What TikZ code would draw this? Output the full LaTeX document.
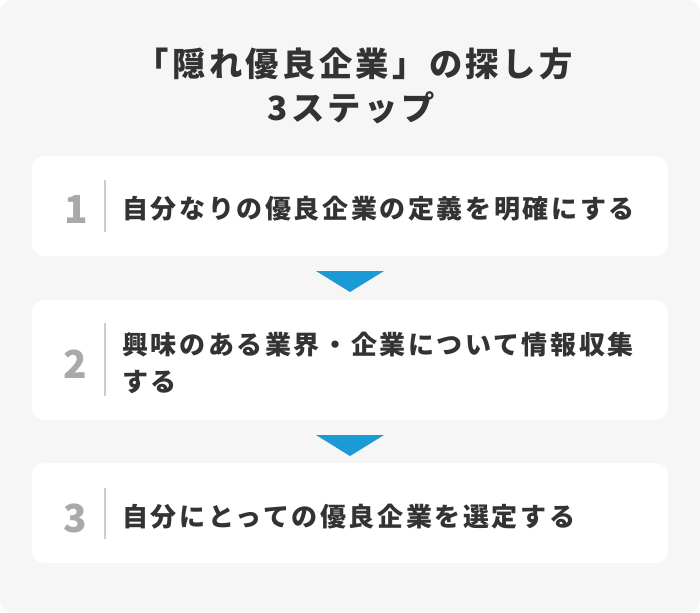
\documentclass[tikz,border=0pt]{standalone}
\usepackage{fontspec}
\newfontfamily\jp[LetterSpace=10]{Noto Sans CJK JP}
\newfontfamily\jpnum{Noto Sans CJK JP}
\definecolor{bgcol}{HTML}{F6F6F6}
\definecolor{txtcol}{HTML}{333333}
\definecolor{numcol}{HTML}{A9A9A9}
\definecolor{divcol}{HTML}{CCCCCC}
\definecolor{arrcol}{HTML}{1C9AD6}
\begin{document}
\begin{tikzpicture}[x=0.75pt,y=-0.75pt,
  stepbox/.style={fill=white, rounded corners=9pt},
  titletext/.style={inner sep=0pt, anchor=base, text=txtcol, font=\jp\bfseries\fontsize{25}{30}\selectfont},
  steptext/.style={inner sep=0pt, anchor=base west, text=txtcol, font=\jp\bfseries\fontsize{19.5}{26}\selectfont},
  numtext/.style={inner sep=0pt, anchor=base, text=numcol, font=\jpnum\bfseries\fontsize{29}{32}\selectfont},
  divider/.style={draw=divcol, line width=1.5pt},
  arrowtri/.style={fill=arrcol}]
\fill[white] (0,0) rectangle (700,612);
\useasboundingbox (0,0) rectangle (700,612);
\fill[bgcol, rounded corners=9pt] (0,0) rectangle (700,612);

% title
\node[titletext] (t1) at (354,76) {「隠れ優良企業」の探し方};
\node[titletext] (t2) at (351,120) {3ステップ};

% step boxes
\fill[stepbox] (32,156) rectangle (668,256);
\fill[stepbox] (32,300) rectangle (668,420);
\fill[stepbox] (32,463) rectangle (668,563);

% step 1
\node[numtext] (n1) at (76,223) {1};
\draw[divider] (105,180) -- (105,232);
\node[steptext] (s1) at (122,218) {自分なりの優良企業の定義を明確にする};

% step 2
\node[numtext] (n2) at (75,378) {2};
\draw[divider] (105,323) -- (105,396);
\node[steptext] (s2a) at (122,354) {興味のある業界・企業について情報収集};
\node[steptext] (s2b) at (122,391) {する};

% step 3
\node[numtext] (n3) at (75,532) {3};
\draw[divider] (105,488) -- (105,539);
\node[steptext] (s3) at (122,526) {自分にとっての優良企業を選定する};

% arrows
\fill[arrowtri] (316,271) -- (384,271) -- (350,292) -- cycle;
\fill[arrowtri] (316,435) -- (384,435) -- (350,456) -- cycle;
\end{tikzpicture}
\end{document}
